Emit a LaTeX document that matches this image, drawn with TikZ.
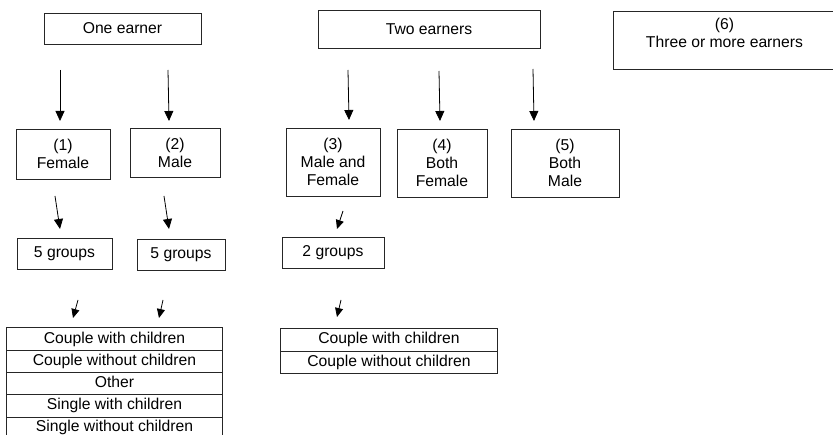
\documentclass[tikz,border=0pt]{standalone}
\usepackage{fontspec}
\setmainfont{Liberation Sans}
\usetikzlibrary{arrows.meta}
\begin{document}
\begin{tikzpicture}[x=1pt,y=-1pt,
  box/.style={draw=black!85,line width=0.8pt,inner sep=0pt,align=center,
    font=\fontsize{15.7}{18}\selectfont},
  cell/.style={inner sep=0pt,minimum height=22.2pt,text height=11.3pt,text depth=3.3pt,
    font=\fontsize{15.7}{18}\selectfont},
  frame/.style={draw=black!85,line width=0.8pt},
  arr/.style={line width=0.8pt,-{Triangle[width=9pt,length=10pt]}},
  sarr/.style={line width=0.8pt,-{Triangle[width=8pt,length=9pt]}}]
\useasboundingbox (0,0) rectangle (833,435);
\clip (0,0) rectangle (833,435);
\fill[white] (0,0) rectangle (833,435);
% top level
\node[box,minimum width=157pt,minimum height=31pt] (oneE) at (122.5,28.5) {One earner};
\node[box,minimum width=222pt,minimum height=38pt] (twoE) at (429,29) {Two earners};
\node[box,minimum width=223pt,minimum height=58pt] (six) at (724.5,40) {(6)\\Three or more earners\\[-3pt]};
% second level
\node[box,minimum width=94pt,minimum height=50pt] (fem) at (63,154) {(1)\\Female};
\node[box,minimum width=90pt,minimum height=49pt] (male) at (175,152.5) {(2)\\Male};
\node[box,minimum width=94pt,minimum height=68pt] (b3) at (333,162) {(3)\\Male and\\Female};
\node[box,minimum width=90pt,minimum height=68pt] (b4) at (442,163) {(4)\\Both\\Female};
\node[box,minimum width=108pt,minimum height=68pt] (b5) at (565,163) {(5)\\Both\\Male};
% groups
\node[box,minimum width=95pt,minimum height=31pt] (g1) at (64.5,253.5) {5 groups};
\node[box,minimum width=88pt,minimum height=31pt] (g2) at (181,254.5) {5 groups};
\node[box,minimum width=102pt,minimum height=31pt] (g3) at (333,252.5) {2 groups};
% table 1
\node[cell,minimum width=215pt] (t1) at (114.5,339.1) {Couple with children};
\node[cell,minimum width=215pt] (t2) at (114.5,361.3) {Couple without children};
\node[cell,minimum width=215pt] (t3) at (114.5,383.5) {Other};
\node[cell,minimum width=215pt] (t4) at (114.5,405.7) {Single with children};
\node[cell,minimum width=215pt] (t5) at (114.5,427.9) {Single without children};
\draw[frame] (t1.north west) rectangle (t5.south east);
\draw[frame] (t1.south west) -- (t1.south east);
\draw[frame] (t2.south west) -- (t2.south east);
\draw[frame] (t3.south west) -- (t3.south east);
\draw[frame] (t4.south west) -- (t4.south east);
% table 2
\node[cell,minimum width=216pt] (u1) at (389,340) {Couple with children};
\node[cell,minimum width=216pt] (u2) at (389,362.2) {Couple without children};
\draw[frame] (u1.north west) rectangle (u2.south east);
\draw[frame] (u1.south west) -- (u1.south east);
% arrow end points
\coordinate (s1) at (60,70);   \coordinate (e1) at (60,121);
\coordinate (s2) at (168,70);  \coordinate (e2) at (169,121);
\coordinate (s3) at (348,70);  \coordinate (e3) at (349,120);
\coordinate (s4) at (439,71);  \coordinate (e4) at (440,121);
\coordinate (s5) at (533,69);  \coordinate (e5) at (534,121);
\coordinate (s6) at (55,196);  \coordinate (e6) at (60,229);
\coordinate (s7) at (164,196); \coordinate (e7) at (169,229);
\coordinate (s8) at (343,211); \coordinate (e8) at (337,229);
\coordinate (s9) at (78,300);  \coordinate (e9) at (73,318);
\coordinate (s10) at (163,300); \coordinate (e10) at (159,318);
\coordinate (s11) at (341,300); \coordinate (e11) at (337,317);
\draw[arr] (s1) -- (e1);
\draw[arr] (s2) -- (e2);
\draw[arr] (s3) -- (e3);
\draw[arr] (s4) -- (e4);
\draw[arr] (s5) -- (e5);
\draw[arr] (s6) -- (e6);
\draw[arr] (s7) -- (e7);
\draw[sarr] (s8) -- (e8);
\draw[sarr] (s9) -- (e9);
\draw[sarr] (s10) -- (e10);
\draw[sarr] (s11) -- (e11);
\end{tikzpicture}
\end{document}
